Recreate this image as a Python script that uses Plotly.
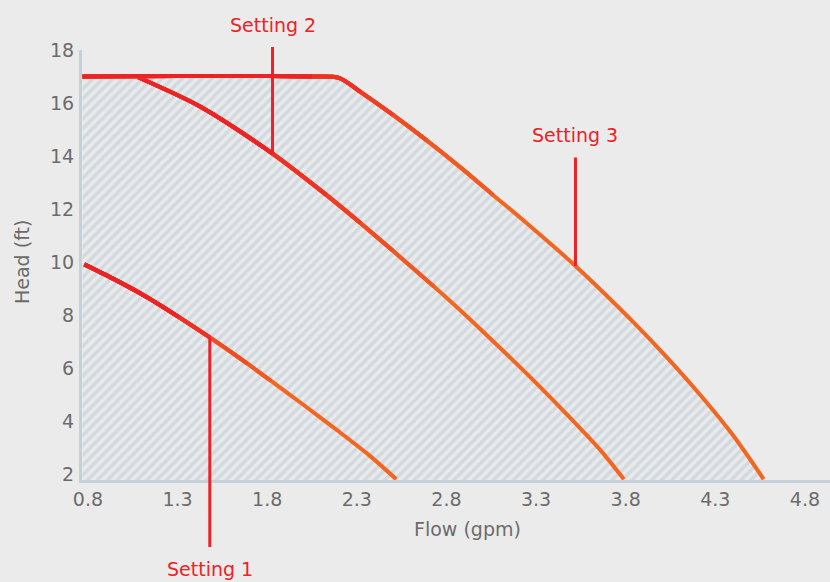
import plotly.graph_objects as go

# ---- data ----
flow_ticks = [0.8, 1.3, 1.8, 2.3, 2.8, 3.3, 3.8, 4.3, 4.8]
head_ticks = [2, 4, 6, 8, 10, 12, 14, 16, 18]

s1_flow = [0.78, 0.94, 1.13, 1.31, 1.48, 1.69, 1.82, 2.00, 2.19, 2.37, 2.52]
s1_head = [9.91, 9.37, 8.67, 7.91, 7.15, 6.16, 5.52, 4.62, 3.65, 2.70, 1.80]

s2_flow = [1.08, 1.43, 1.83, 2.13, 2.32, 2.50, 2.73, 2.91, 3.10, 3.29, 3.47, 3.66, 3.79]
s2_head = [16.97, 15.85, 14.09, 12.53, 11.47, 10.43, 9.07, 7.97, 6.75, 5.50, 4.26, 2.89, 1.80]

s3_flow = [0.77, 1.30, 1.80, 2.05, 2.20, 2.32, 2.50, 2.69, 2.88, 3.06, 3.25, 3.52, 3.84, 4.03, 4.22, 4.40, 4.57]
s3_head = [17.00, 17.02, 17.02, 17.00, 16.95, 16.42, 15.56, 14.59, 13.56, 12.53, 11.45, 9.85, 7.75, 6.40, 4.95, 3.45, 1.80]

label_text = ["Setting 1", "Setting 2", "Setting 3"]
label_flow = [1.48, 1.83, 3.52]
label_head = [7.15, 14.09, 9.85]
label_offset = [232, -129, -131]

# ---- style ----
BG = "#ebebeb"
RED = (236, 34, 39)
ORANGE = (244, 102, 31)
AXIS = "#c5d0d8"
TICK = "#6b6b6b"
FONT = "DejaVu Sans"
LEVELS = [1.0, 0.8, 0.6, 0.4, 0.2, 0.0]


def tmix(f):
    return min(max((f - 0.35) / 0.33, 0.0), 1.0)


def colour(t):
    c = [round(RED[k] + (ORANGE[k] - RED[k]) * t) for k in range(3)]
    return "rgb(%d,%d,%d)" % tuple(c)


fig = go.Figure()

# hatched operating area under the Setting 3 curve
fig.add_trace(go.Scatter(
    x=s3_flow, y=s3_head, mode="lines", line=dict(width=0, shape="spline", smoothing=0.8),
    fill="tozeroy", fillcolor="#e9eaeb",
    fillpattern=dict(shape="/", fgcolor="#bccad3", bgcolor="#e9eaeb",
                     size=7, solidity=0.5),
    hoverinfo="skip", showlegend=False,
))

# each curve: layered smooth strokes so the colour shifts from red to orange
for xs, ys in [(s1_flow, s1_head), (s2_flow, s2_head), (s3_flow, s3_head)]:
    x0, xn = xs[0], xs[-1]
    ts = [tmix((x - x0) / (xn - x0)) for x in xs]
    for lv in LEVELS:
        k = max(i for i, t in enumerate(ts) if t <= lv + 1e-9)
        k = max(k, 1)
        fig.add_trace(go.Scatter(
            x=xs[:k + 1], y=ys[:k + 1], mode="lines",
            line=dict(color=colour(lv), width=4, shape="spline", smoothing=0.8),
            hoverinfo="skip", showlegend=False,
        ))

annotations = []
for t, fx, hy, off in zip(label_text, label_flow, label_head, label_offset):
    annotations.append(dict(
        x=fx, y=hy, xref="x", yref="y", text=t,
        showarrow=True, arrowhead=0, arrowwidth=3, arrowcolor="rgb(236,34,39)",
        ax=0, ay=off, axref="pixel", ayref="pixel", standoff=0,
        borderpad=11, font=dict(family=FONT, size=19, color="rgb(236,34,39)"),
    ))

annotations.append(dict(
    x=0.516, y=-0.114, xref="paper", yref="paper", text="Flow (gpm)",
    xanchor="center", yanchor="middle",
    showarrow=False, font=dict(family=FONT, size=19, color=TICK),
))
annotations.append(dict(
    x=-0.0802, y=0.507, xref="paper", yref="paper", text="Head (ft)",
    xanchor="center", yanchor="middle",
    textangle=-90, showarrow=False, font=dict(family=FONT, size=19, color=TICK),
))

fig.update_layout(
    width=830, height=582,
    margin=dict(l=82, r=0, t=50, b=102),
    paper_bgcolor=BG, plot_bgcolor=BG,
    font=dict(family=FONT, size=19, color=TICK),
    annotations=annotations,
    xaxis=dict(
        range=[0.767, 4.94], tickvals=flow_ticks,
        ticktext=["%.1f" % v for v in flow_ticks],
        showgrid=False, zeroline=False, showline=True,
        linecolor=AXIS, linewidth=3, ticks="", ticklabelstandoff=0,
        tickfont=dict(family=FONT, size=19, color=TICK),
    ),
    yaxis=dict(
        range=[1.77, 18], tickvals=head_ticks,
        showgrid=False, zeroline=False, showline=True,
        linecolor=AXIS, linewidth=3, ticks="", ticklabelstandoff=1,
        tickfont=dict(family=FONT, size=19, color=TICK),
    ),
)

fig.write_html(
    "out.html",
    config={"displayModeBar": False},
    post_script="document.body.style.margin='0';document.body.style.overflow='hidden';"
                "document.body.style.background='#ebebeb';",
)
